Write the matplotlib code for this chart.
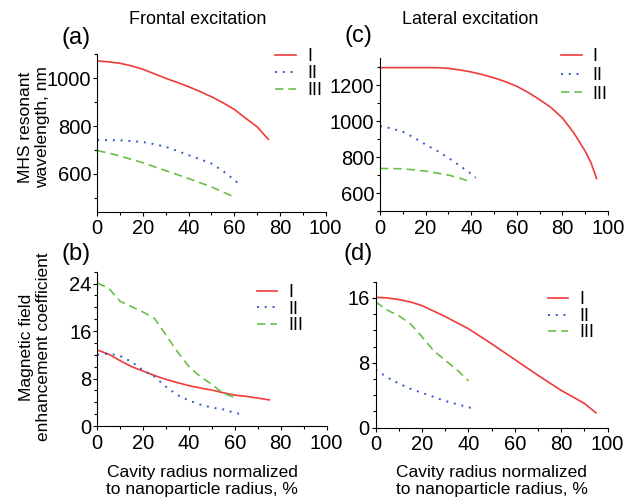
import matplotlib
matplotlib.use("Agg")
import matplotlib.pyplot as plt
from matplotlib.ticker import MultipleLocator

plt.rcParams['font.family'] = ['Liberation Sans', 'DejaVu Sans']

# ---------------- data ----------------
# (a) Frontal excitation: MHS resonant wavelength, nm
a_x1 = [0, 5, 10, 15, 20, 25, 30, 35, 40, 45, 50, 55, 60, 65, 70, 75]
a_y1 = [1073, 1069, 1063, 1052, 1038, 1019, 1000, 983, 965, 945, 923, 898, 870, 833, 797, 744]
a_x2 = [0, 5, 10, 15, 20, 25, 30, 35, 40, 45, 50, 55, 60, 63]
a_y2 = [741, 741, 740, 737, 733, 724, 713, 696, 678, 661, 643, 612, 575, 548]
a_x3 = [0, 5, 10, 20, 30, 40, 50, 60]
a_y3 = [697, 687, 674, 646, 613, 580, 545, 503]

# (c) Lateral excitation: MHS resonant wavelength, nm
c_x1 = [0, 10, 20, 25, 30, 35, 40, 45, 50, 55, 60, 65, 70, 75, 80, 85, 90, 92.5, 95]
c_y1 = [1298, 1298, 1298, 1298, 1294, 1285, 1274, 1259, 1241, 1220, 1194, 1160, 1120, 1076, 1018, 935, 833, 770, 681]
c_x2 = [0, 5, 10, 15, 20, 25, 30, 35, 40, 42]
c_y2 = [972, 960, 941, 908, 870, 835, 796, 752, 707, 685]
c_x3 = [0, 10, 20, 30, 35, 40]
c_y3 = [737, 735, 722, 700, 683, 661]

# (b) Frontal excitation: magnetic field enhancement coefficient
b_x1 = [0, 5, 10, 15, 20, 25, 30, 35, 40, 45, 50, 55, 60, 65, 70, 75]
b_y1 = [12.8, 12.1, 11.0, 10.0, 9.25, 8.5, 7.85, 7.3, 6.8, 6.4, 6.05, 5.6, 5.2, 5.0, 4.7, 4.4]
b_x2 = [0, 5, 10, 15, 20, 25, 30, 35, 40, 45, 50, 55, 60, 63]
b_y2 = [12.0, 12.2, 11.8, 10.8, 9.4, 8.3, 6.6, 5.2, 4.3, 3.6, 3.1, 2.8, 2.2, 2.0]
b_x3 = [0, 5, 10, 15, 20, 25, 30, 35, 40, 45, 50, 55, 60]
b_y3 = [24.1, 23.2, 21.0, 20.1, 19.2, 18.1, 15.3, 12.5, 10.0, 8.3, 7.0, 5.5, 4.8]

# (d) Lateral excitation: magnetic field enhancement coefficient
d_x1 = [0, 5, 10, 15, 20, 30, 40, 50, 60, 70, 80, 90, 95]
d_y1 = [16.07, 16.0, 15.8, 15.5, 15.05, 13.7, 12.2, 10.35, 8.4, 6.46, 4.6, 3.0, 1.84]
d_x2 = [0, 5, 10, 15, 20, 25, 30, 35, 42]
d_y2 = [7.16, 6.2, 5.44, 4.8, 4.3, 3.8, 3.3, 2.9, 2.37]
d_x3 = [0, 5, 10, 15, 20, 25, 30, 35, 40]
d_y3 = [15.5, 14.5, 13.8, 12.8, 11.2, 9.5, 8.3, 7.16, 5.77]

labels = ["I", "II", "III"]
titles = ["Frontal excitation", "Lateral excitation"]
ylabel_top = "MHS resonant\nwavelength, nm"
ylabel_bot = "Magnetic field\nenhancement coefficient"
xlabel = "Cavity radius normalized\nto nanoparticle radius, %"

RED = "#ee3b3b"
BLUE = "#3559c8"
GREEN = "#68c046"

W, H = 636, 500
fig = plt.figure(figsize=(W / 100, H / 100), dpi=100)


def ax_at(left, top, right, bottom):
    return fig.add_axes([left / W, 1 - bottom / H, (right - left) / W, (bottom - top) / H])


axA = ax_at(97.3, 54, 325.5, 211.7)
axC = ax_at(380, 58.3, 608, 211)
axB = ax_at(97.3, 271.7, 326.5, 426)
axD = ax_at(375.7, 281.7, 607.5, 427.7)

panels = [
    (axA, (a_x1, a_y1), (a_x2, a_y2), (a_x3, a_y3), (441, 1102), 200, 100, (0.78, 1.035), 0.0),
    (axC, (c_x1, c_y1), (c_x2, c_y2), (c_x3, c_y3), (500, 1350), 200, 100, (0.795, 1.067), 0.1),
    (axB, (b_x1, b_y1), (b_x2, b_y2), (b_x3, b_y3), (0, 26), 8, 2, (0.695, 0.918), -0.03),
    (axD, (d_x1, d_y1), (d_x2, d_y2), (d_x3, d_y3), (0, 18), 8, 2, (0.742, 0.933), -0.03),
]

for ax, s1, s2, s3, ylim, ymaj, ymin, lpos, lsp in panels:
    ax.plot(s1[0], s1[1], color=RED, lw=1.2, ls='-', label=labels[0])
    ax.plot(s2[0], s2[1], color=BLUE, lw=1.4, ls=(0, (1, 3)), label=labels[1])
    ax.plot(s3[0], s3[1], color=GREEN, lw=1.2, ls=(0, (5, 3)), label=labels[2])
    ax.set_xlim(0, 100)
    ax.set_ylim(*ylim)
    ax.xaxis.set_major_locator(MultipleLocator(20))
    ax.xaxis.set_minor_locator(MultipleLocator(10))
    ax.yaxis.set_major_locator(MultipleLocator(ymaj))
    ax.yaxis.set_minor_locator(MultipleLocator(ymin))
    for sp in ['top', 'right']:
        ax.spines[sp].set_visible(False)
    for sp in ['left', 'bottom']:
        ax.spines[sp].set_linewidth(0.8)
    ax.tick_params(which='major', direction='out', length=3, width=0.8, labelsize=14.5)
    ax.tick_params(which='minor', direction='out', length=2.2, width=0.8)
    ax.tick_params(axis='y', which='major', pad=1.2)
    ax.tick_params(axis='x', which='major', pad=2.5)
    ax.legend(loc='upper left', bbox_to_anchor=lpos, frameon=False, fontsize=13,
              handlelength=1.15, handletextpad=0.6, labelspacing=lsp,
              borderpad=0, borderaxespad=0)

fig.text(197.6 / W, 1 - 19.3 / H, titles[0], ha='center', va='center', fontsize=13)
fig.text(470 / W, 1 - 19.3 / H, titles[1], ha='center', va='center', fontsize=13)

fig.text(76 / W, 1 - 38 / H, "(a)", ha='center', va='center', fontsize=17)
fig.text(76 / W, 1 - 254 / H, "(b)", ha='center', va='center', fontsize=17)
fig.text(358 / W, 1 - 36 / H, "(c)", ha='center', va='center', fontsize=17)
fig.text(358 / W, 1 - 254 / H, "(d)", ha='center', va='center', fontsize=17)

fig.text(34 / W, 1 - 127 / H, ylabel_top, ha='center', va='center', rotation=90,
         fontsize=12.5, linespacing=1.15)
fig.text(35 / W, 1 - 347 / H, ylabel_bot, ha='center', va='center', rotation=90,
         fontsize=12.5, linespacing=1.15)

fig.text(202 / W, 1 - 481 / H, xlabel, ha='center', va='center', fontsize=12.5, linespacing=1.15)
fig.text(491.7 / W, 1 - 481 / H, xlabel, ha='center', va='center', fontsize=12.5, linespacing=1.15)

fig.savefig("out.png", dpi=100)
